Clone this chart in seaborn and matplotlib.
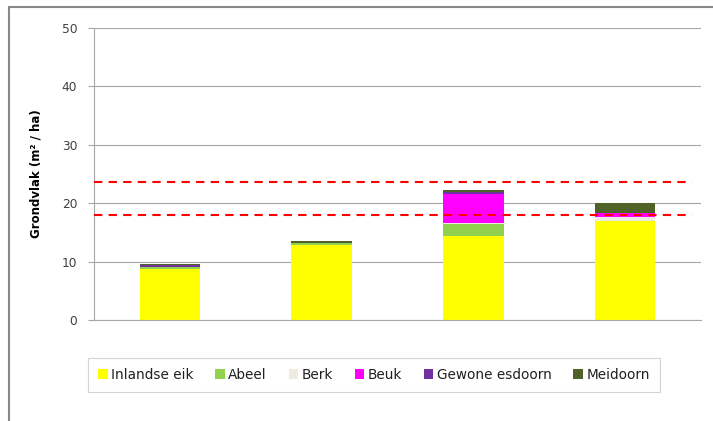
import matplotlib
matplotlib.use("Agg")
import matplotlib.pyplot as plt
from matplotlib.patches import Patch, Rectangle
import seaborn as sns
import pandas as pd

# data (m2/ha per plot)
plots = ["1", "2", "3", "4"]
species = ["Inlandse eik", "Abeel", "Berk", "Beuk", "Gewone esdoorn", "Meidoorn"]
inlandse_eik = [8.8, 12.8, 14.3, 16.9]
abeel = [0.25, 0.35, 2.2, 0.0]
berk = [0.0, 0.0, 0.1, 0.8]
beuk = [0.0, 0.0, 5.0, 0.6]
gewone_esdoorn = [0.35, 0.0, 0.35, 0.0]
meidoorn = [0.2, 0.35, 0.3, 1.7]
reference_lines = [23.6, 18.0]

colors = ["#FFFF00", "#92D050", "#EEECE1", "#FF00FF", "#7030A0", "#4F6228"]

df = pd.DataFrame({
    "plot": plots,
    "Inlandse eik": inlandse_eik,
    "Abeel": abeel,
    "Berk": berk,
    "Beuk": beuk,
    "Gewone esdoorn": gewone_esdoorn,
    "Meidoorn": meidoorn,
})
cum = df[species].cumsum(axis=1)

sns.set_style("white")
fig = plt.figure(figsize=(7.13, 4.21), dpi=100)
ax = fig.add_axes([94 / 713, 101 / 421, 607 / 713, 292 / 421])

# stacked bars: draw cumulative totals from the top species downwards
for sp, col in reversed(list(zip(species, colors))):
    sns.barplot(x=df["plot"], y=cum[sp], color=col, width=0.4,
                saturation=1, ax=ax, zorder=2, edgecolor="none", linewidth=0)

for y in reference_lines:
    ax.axhline(y, xmin=0, xmax=0.985, color="#FF0000", lw=1.5,
               dashes=(4, 3), zorder=3)

ax.set_ylim(0, 50)
ax.set_xlim(-0.5, 3.5)
ax.set_yticks(range(0, 51, 10))
ax.yaxis.grid(True, color="#a6a6a6", lw=0.8, zorder=0)
ax.set_axisbelow(True)
ax.set_xticks([])
ax.set_xlabel("")
ax.set_ylabel("Grondvlak (m² / ha)", fontsize=8.5, fontweight="bold",
              color="#000000", labelpad=14)
ax.tick_params(axis="y", length=4, width=0.8, color="#a6a6a6", pad=8,
               labelsize=8.8, labelcolor="#404040", left=True)
for side in ["top", "right"]:
    ax.spines[side].set_visible(False)
ax.spines["left"].set_color("#a6a6a6")
ax.spines["bottom"].set_color("#a6a6a6")
ax.spines["left"].set_linewidth(0.8)
ax.spines["bottom"].set_linewidth(0.8)

handles = [Patch(facecolor=c, edgecolor="none", label=s)
           for s, c in zip(species, colors)]
leg = fig.legend(handles=handles, loc="center", ncol=6,
                 bbox_to_anchor=(374 / 713, 46 / 421), fontsize=9.8,
                 frameon=True, fancybox=False, handlelength=0.7,
                 handleheight=0.7, handletextpad=0.25, columnspacing=1.6,
                 borderpad=0.75, borderaxespad=0)
leg.get_frame().set_edgecolor("#c8c8c8")
leg.get_frame().set_linewidth(0.8)
for t in leg.get_texts():
    t.set_color("#202020")

# outer chart border (only top and left fall inside the image)
fig.patches.append(Rectangle((9 / 713, -0.1), 1.2, 0.1 + 414 / 421,
                             transform=fig.transFigure, fill=False,
                             edgecolor="#888888", lw=1.5))

fig.savefig("out.png", dpi=100)
